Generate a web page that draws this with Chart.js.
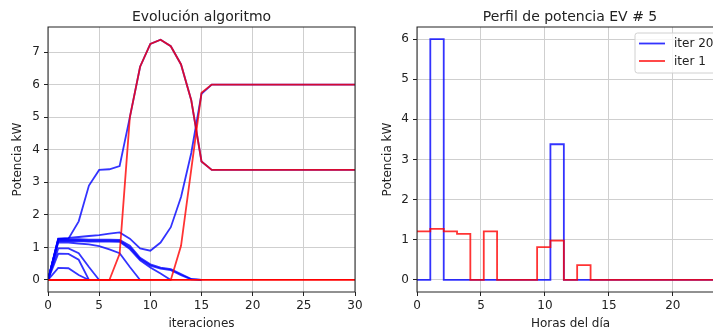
<!DOCTYPE html>
<html>
<head>
<meta charset="utf-8">
<script src="https://cdn.jsdelivr.net/npm/chart.js@4.4.0/dist/chart.umd.min.js"></script>
<style>
  html, body { margin: 0; padding: 0; background: #fff; overflow: hidden; }
  #wrap { position: relative; width: 713px; height: 332px; overflow: hidden; }
  #left { position: absolute; left: 0; top: 0; }
  #right { position: absolute; left: 360px; top: 0; }
</style>
</head>
<body>
<div id="wrap">
  <canvas id="left" width="372" height="332"></canvas>
  <canvas id="right" width="380" height="332"></canvas>
</div>
<script>
// ---- datos: evolución del algoritmo (potencia por hora vs iteración) ----
const iters = [0,1,2,3,4,5,6,7,8,9,10,11,12,13,14,15,16,17,18,19,20,21,22,23,24,25,26,27,28,29,30];

const bluePeak = [0, 1.26, 1.27, 1.8, 2.9, 3.38, 3.4, 3.5, 5.0, 6.55, 7.25, 7.38, 7.18, 6.62, 5.52, 3.64, 3.38,
  3.38, 3.38, 3.38, 3.38, 3.38, 3.38, 3.38, 3.38, 3.38, 3.38, 3.38, 3.38, 3.38, 3.38];
const blueSix = [0, 1.27, 1.29, 1.32, 1.35, 1.38, 1.42, 1.46, 1.27, 0.97, 0.9, 1.15, 1.62, 2.55, 3.9, 5.72, 6.0,
  6.0, 6.0, 6.0, 6.0, 6.0, 6.0, 6.0, 6.0, 6.0, 6.0, 6.0, 6.0, 6.0, 6.0];
const blueA = [0, 1.25, 1.25, 1.25, 1.24, 1.24, 1.24, 1.23, 1.05, 0.68, 0.48, 0.38, 0.33, 0.18, 0.03, 0];
const blueB = [0, 1.22, 1.22, 1.22, 1.21, 1.21, 1.21, 1.2, 1.0, 0.64, 0.44, 0.35, 0.3, 0.15, 0.02, 0];
const blueC = [0, 1.19, 1.19, 1.19, 1.18, 1.18, 1.18, 1.17, 0.95, 0.6, 0.38, 0.2, 0];
const blueD = [0, 1.15, 1.15, 1.12, 1.09, 1.04, 0.94, 0.82, 0.4, 0];
const blueE = [0, 0.97, 0.97, 0.82, 0.4, 0];
const blueF = [0, 0.81, 0.8, 0.62, 0];
const blueG = [0, 0.37, 0.36, 0.15, 0];

const redPeak = [0, 0, 0, 0, 0, 0, 0, 0.8, 5.0, 6.55, 7.25, 7.38, 7.18, 6.62, 5.52, 3.64, 3.38,
  3.38, 3.38, 3.38, 3.38, 3.38, 3.38, 3.38, 3.38, 3.38, 3.38, 3.38, 3.38, 3.38, 3.38];
const redSix = [0, 0, 0, 0, 0, 0, 0, 0, 0, 0, 0, 0, 0, 1.05, 3.4, 5.75, 6.0,
  6.0, 6.0, 6.0, 6.0, 6.0, 6.0, 6.0, 6.0, 6.0, 6.0, 6.0, 6.0, 6.0, 6.0];
const redZero = [0, 0, 0, 0, 0, 0, 0, 0, 0, 0, 0, 0, 0, 0, 0, 0,
  0, 0, 0, 0, 0, 0, 0, 0, 0, 0, 0, 0, 0, 0, 0];

const leftXTicks = [0, 5, 10, 15, 20, 25, 30];
const leftYTicks = [0, 1, 2, 3, 4, 5, 6, 7];

// ---- datos: perfil de potencia EV # 5 ----
const hours = [0, 1.04, 2.09, 3.13, 4.17, 5.22, 6.26, 7.3, 8.35, 9.39, 10.43, 11.48,
  12.52, 13.57, 14.61, 15.65, 16.7, 17.74, 18.78, 19.83, 20.87, 21.91, 22.96, 24];
const iter20 = [0, 6.0, 0, 0, 0, 0, 0, 0, 0, 0, 3.38, 0, 0, 0, 0, 0, 0, 0, 0, 0, 0, 0, 0, 0];
const iter1 = [1.21, 1.27, 1.21, 1.15, 0, 1.21, 0, 0, 0, 0.82, 0.98, 0, 0.37, 0, 0, 0, 0, 0, 0, 0, 0, 0, 0, 0];

const rightXTicks = [0, 5, 10, 15, 20];
const rightYTicks = [0, 1, 2, 3, 4, 5, 6];

// ---- estilo ----
const BLUE = 'rgba(0,0,255,0.8)';
const RED = 'rgba(255,0,0,0.8)';
const TXT = '#222';
Chart.defaults.font.family = '"DejaVu Sans", sans-serif';
Chart.defaults.font.size = 12;
Chart.defaults.color = TXT;

function pts(xs, ys) {
  return ys.map((y, i) => ({ x: xs[i], y: y }));
}

function line(values, color, xs, order) {
  return {
    data: pts(xs, values),
    borderColor: color,
    borderWidth: 1.8,
    pointRadius: 0,
    tension: 0,
    fill: false,
    order: order
  };
}

// marco de los ejes y título estilo matplotlib
const frame = {
  id: 'frame',
  afterDraw(chart, args, opts) {
    const { ctx, chartArea: a } = chart;
    ctx.save();
    ctx.strokeStyle = TXT;
    ctx.lineWidth = 1;
    ctx.strokeRect(a.left, a.top, a.right - a.left, a.bottom - a.top);
    ctx.fillStyle = TXT;
    ctx.font = '14px "DejaVu Sans"';
    ctx.textAlign = 'center';
    ctx.textBaseline = 'alphabetic';
    ctx.fillText(opts.text, opts.cx != null ? opts.cx : (a.left + a.right) / 2, a.top - 6.5);
    ctx.restore();
  }
};

// leyenda dentro del área del gráfico
const innerLegend = {
  id: 'innerLegend',
  afterDraw(chart, args, opts) {
    if (!opts.items) return;
    const { ctx, chartArea: a } = chart;
    const x0 = a.left + opts.left, y0 = a.top + 6;
    const w = opts.width, h = 40;
    ctx.save();
    ctx.fillStyle = 'rgba(255,255,255,0.8)';
    ctx.strokeStyle = '#d0d0d0';
    ctx.lineWidth = 1;
    ctx.beginPath();
    ctx.roundRect(x0, y0, w, h, 2.5);
    ctx.fill();
    ctx.stroke();
    ctx.font = '12px "DejaVu Sans"';
    ctx.textBaseline = 'middle';
    ctx.textAlign = 'left';
    opts.items.forEach((it, i) => {
      const y = y0 + 10.5 + i * 17.5;
      ctx.strokeStyle = it.color;
      ctx.lineWidth = 1.8;
      ctx.beginPath();
      ctx.moveTo(x0 + 4, y);
      ctx.lineTo(x0 + 30, y);
      ctx.stroke();
      ctx.fillStyle = TXT;
      ctx.fillText(it.label, x0 + 39, y + 0.5);
    });
    ctx.restore();
  }
};

function axes(xmin, xmax, ymin, ymax, xTicks, yTicks, xTitle, yTitle, yWidth, yTitlePad) {
  return {
    x: {
      type: 'linear', min: xmin, max: xmax,
      afterBuildTicks: s => { s.ticks = xTicks.map(v => ({ value: v })); },
      afterFit: s => { s.height = 40; },
      grid: { color: '#cfcfcf', lineWidth: 1, tickColor: TXT, tickLength: 4 },
      border: { display: false },
      ticks: { padding: 3, color: TXT, font: { size: 12 } },
      title: { display: true, text: xTitle, color: TXT, font: { size: 12 }, padding: { top: 0, bottom: 1 } }
    },
    y: {
      type: 'linear', min: ymin, max: ymax,
      afterBuildTicks: s => { s.ticks = yTicks.map(v => ({ value: v })); },
      afterFit: s => { s.width = yWidth; },
      grid: { color: '#cfcfcf', lineWidth: 1, tickColor: TXT, tickLength: 4 },
      border: { display: false },
      ticks: { padding: 4, color: TXT, font: { size: 12 } },
      title: { display: true, text: yTitle, color: TXT, font: { size: 12 }, padding: { top: yTitlePad, bottom: 0 } }
    }
  };
}

// ---- gráfico izquierdo ----
new Chart(document.getElementById('left'), {
  type: 'line',
  data: {
    datasets: [
      line(redZero, 'rgb(255,0,0)', iters, 0),
      line(redPeak, RED, iters, 0),
      line(redSix, RED, iters, 0),
      line(bluePeak, BLUE, iters, 1),
      line(blueSix, BLUE, iters, 1),
      line(blueA, BLUE, iters, 1),
      line(blueB, BLUE, iters, 1),
      line(blueC, BLUE, iters, 1),
      line(blueD, BLUE, iters, 1),
      line(blueE, BLUE, iters, 1),
      line(blueF, BLUE, iters, 1),
      line(blueG, BLUE, iters, 1)
    ]
  },
  options: {
    responsive: false,
    animation: false,
    layout: { padding: { top: 27, right: 17, left: 0, bottom: 0 } },
    scales: axes(0, 30, -0.37, 7.77, leftXTicks, leftYTicks, 'iteraciones', 'Potencia kW', 48, 10.5),
    plugins: {
      legend: { display: false },
      tooltip: { enabled: false },
      frame: { text: 'Evolución algoritmo' }
    }
  },
  plugins: [frame]
});

// ---- gráfico derecho ----
new Chart(document.getElementById('right'), {
  type: 'line',
  data: {
    datasets: [
      Object.assign(line(iter1, RED, hours, 0), { label: 'iter 1', stepped: 'before' }),
      Object.assign(line(iter20, BLUE, hours, 1), { label: 'iter 20', stepped: 'before' })
    ]
  },
  options: {
    responsive: false,
    animation: false,
    layout: { padding: { top: 27, right: 16, left: 0, bottom: 0 } },
    scales: axes(0, 24, -0.3, 6.3, rightXTicks, rightYTicks, 'Horas del día', 'Potencia kW', 57, 20.5),
    plugins: {
      legend: { display: false },
      tooltip: { enabled: false },
      frame: { text: 'Perfil de potencia EV # 5', cx: 210 },
      innerLegend: {
        left: 218, width: 90,
        items: [{ label: 'iter 20', color: BLUE }, { label: 'iter 1', color: RED }]
      }
    }
  },
  plugins: [frame, innerLegend]
});
</script>
</body>
</html>
